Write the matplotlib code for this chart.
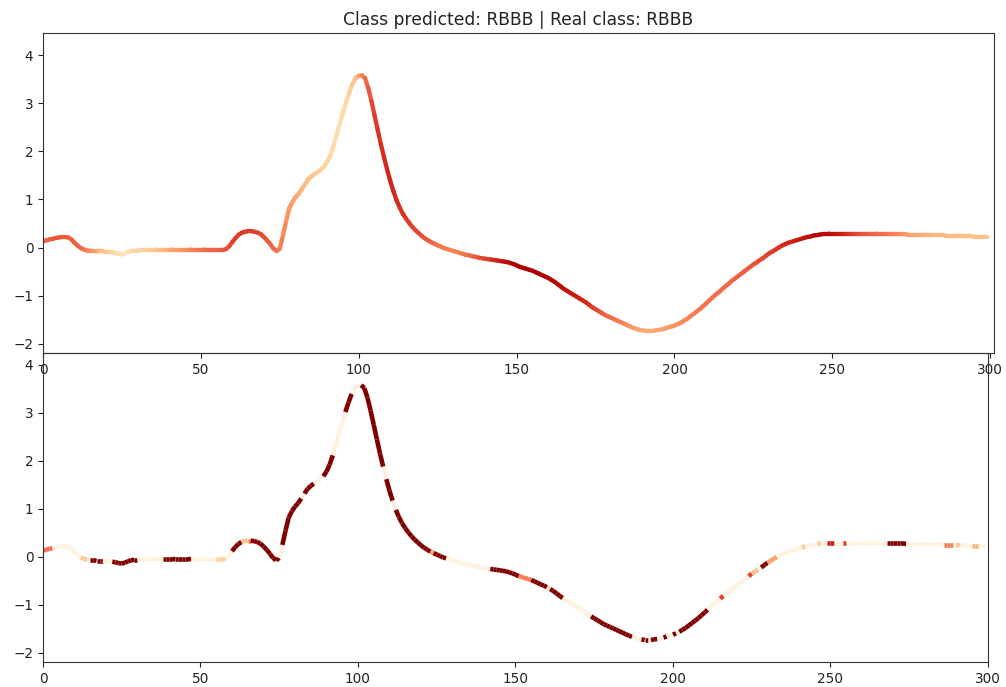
import numpy as np
import matplotlib
matplotlib.use("Agg")
import matplotlib.pyplot as plt
from matplotlib.collections import LineCollection
from matplotlib.colors import Normalize

# ECG beat (one value per sample, 0..299)
ecg = [
    0.13, 0.15, 0.17, 0.18, 0.20, 0.21, 0.22, 0.22, 0.21, 0.17,
    0.10, 0.04, -0.01, -0.04, -0.06, -0.07, -0.07, -0.08, -0.08, -0.08,
    -0.09, -0.09, -0.10, -0.11, -0.13, -0.14, -0.12, -0.09, -0.07, -0.06,
    -0.06, -0.05, -0.05, -0.05, -0.05, -0.05, -0.04, -0.04, -0.04, -0.04,
    -0.04, -0.04, -0.05, -0.05, -0.05, -0.05, -0.05, -0.04, -0.04, -0.04,
    -0.04, -0.04, -0.05, -0.05, -0.05, -0.05, -0.05, -0.05, -0.03, 0.03,
    0.12, 0.20, 0.27, 0.31, 0.33, 0.34, 0.34, 0.33, 0.31, 0.28,
    0.22, 0.15, 0.07, -0.02, -0.07, -0.02, 0.25, 0.55, 0.82, 0.95,
    1.05, 1.12, 1.22, 1.32, 1.42, 1.48, 1.53, 1.57, 1.62, 1.68,
    1.78, 1.92, 2.12, 2.35, 2.58, 2.80, 3.02, 3.22, 3.40, 3.52,
    3.57, 3.58, 3.52, 3.32, 3.05, 2.75, 2.45, 2.15, 1.88, 1.62,
    1.38, 1.17, 0.98, 0.83, 0.70, 0.60, 0.51, 0.43, 0.36, 0.30,
    0.24, 0.19, 0.15, 0.11, 0.08, 0.05, 0.02, -0.01, -0.03, -0.05,
    -0.07, -0.09, -0.11, -0.13, -0.15, -0.16, -0.18, -0.19, -0.21, -0.22,
    -0.23, -0.24, -0.25, -0.26, -0.27, -0.28, -0.29, -0.30, -0.32, -0.34,
    -0.37, -0.40, -0.42, -0.44, -0.46, -0.48, -0.51, -0.54, -0.57, -0.60,
    -0.63, -0.67, -0.71, -0.76, -0.81, -0.86, -0.90, -0.94, -0.98, -1.02,
    -1.06, -1.10, -1.14, -1.19, -1.24, -1.28, -1.32, -1.36, -1.40, -1.43,
    -1.46, -1.49, -1.52, -1.55, -1.58, -1.61, -1.64, -1.67, -1.69, -1.71,
    -1.72, -1.73, -1.73, -1.73, -1.72, -1.71, -1.70, -1.68, -1.66, -1.64,
    -1.62, -1.59, -1.56, -1.52, -1.48, -1.43, -1.38, -1.33, -1.28, -1.22,
    -1.16, -1.10, -1.04, -0.98, -0.93, -0.87, -0.81, -0.76, -0.70, -0.65,
    -0.60, -0.55, -0.50, -0.45, -0.40, -0.35, -0.31, -0.26, -0.22, -0.17,
    -0.12, -0.08, -0.04, 0.00, 0.04, 0.07, 0.10, 0.12, 0.14, 0.16,
    0.18, 0.20, 0.22, 0.23, 0.25, 0.26, 0.27, 0.28, 0.28, 0.29,
    0.29, 0.29, 0.29, 0.29, 0.29, 0.29, 0.29, 0.29, 0.29, 0.29,
    0.29, 0.29, 0.29, 0.29, 0.29, 0.28, 0.28, 0.28, 0.28, 0.28,
    0.28, 0.28, 0.28, 0.28, 0.27, 0.27, 0.27, 0.27, 0.27, 0.27,
    0.27, 0.26, 0.26, 0.26, 0.26, 0.26, 0.25, 0.25, 0.25, 0.25,
    0.25, 0.24, 0.24, 0.24, 0.24, 0.23, 0.23, 0.23, 0.22, 0.22,
]

# Smooth relevance map (upper panel), one value per sample
relevance_smooth = [
    0.62, 0.63, 0.64, 0.65, 0.66, 0.66, 0.66, 0.65, 0.64, 0.64,
    0.64, 0.64, 0.63, 0.60, 0.56, 0.52, 0.48, 0.44, 0.40, 0.36,
    0.32, 0.29, 0.26, 0.23, 0.20, 0.18, 0.17, 0.18, 0.20, 0.22,
    0.24, 0.25, 0.26, 0.27, 0.28, 0.30, 0.32, 0.35, 0.38, 0.40,
    0.42, 0.44, 0.45, 0.46, 0.47, 0.48, 0.50, 0.52, 0.54, 0.56,
    0.58, 0.60, 0.61, 0.62, 0.63, 0.64, 0.64, 0.65, 0.66, 0.68,
    0.70, 0.71, 0.72, 0.72, 0.72, 0.72, 0.72, 0.71, 0.70, 0.69,
    0.68, 0.66, 0.64, 0.62, 0.59, 0.56, 0.53, 0.50, 0.48, 0.46,
    0.44, 0.42, 0.40, 0.38, 0.36, 0.34, 0.32, 0.30, 0.28, 0.26,
    0.24, 0.22, 0.21, 0.20, 0.20, 0.21, 0.23, 0.26, 0.30, 0.35,
    0.42, 0.50, 0.58, 0.64, 0.68, 0.71, 0.73, 0.75, 0.76, 0.77,
    0.77, 0.77, 0.76, 0.75, 0.74, 0.73, 0.72, 0.71, 0.70, 0.69,
    0.68, 0.67, 0.66, 0.64, 0.62, 0.60, 0.58, 0.56, 0.55, 0.54,
    0.54, 0.54, 0.55, 0.56, 0.58, 0.60, 0.62, 0.64, 0.66, 0.68,
    0.70, 0.72, 0.74, 0.76, 0.78, 0.80, 0.82, 0.84, 0.85, 0.86,
    0.87, 0.88, 0.88, 0.89, 0.89, 0.89, 0.89, 0.88, 0.88, 0.88,
    0.87, 0.87, 0.86, 0.86, 0.85, 0.84, 0.83, 0.82, 0.81, 0.80,
    0.79, 0.78, 0.77, 0.75, 0.73, 0.71, 0.69, 0.67, 0.65, 0.63,
    0.61, 0.59, 0.57, 0.55, 0.53, 0.51, 0.49, 0.47, 0.45, 0.44,
    0.43, 0.42, 0.42, 0.42, 0.42, 0.43, 0.44, 0.45, 0.46, 0.47,
    0.48, 0.49, 0.50, 0.51, 0.52, 0.53, 0.54, 0.55, 0.56, 0.57,
    0.58, 0.58, 0.59, 0.59, 0.60, 0.60, 0.61, 0.61, 0.62, 0.62,
    0.63, 0.63, 0.64, 0.64, 0.65, 0.66, 0.67, 0.68, 0.69, 0.70,
    0.71, 0.72, 0.73, 0.74, 0.75, 0.76, 0.77, 0.78, 0.79, 0.80,
    0.81, 0.82, 0.83, 0.84, 0.85, 0.86, 0.86, 0.86, 0.86, 0.85,
    0.84, 0.83, 0.82, 0.80, 0.78, 0.76, 0.74, 0.72, 0.70, 0.68,
    0.66, 0.65, 0.64, 0.63, 0.62, 0.61, 0.60, 0.59, 0.58, 0.56,
    0.54, 0.52, 0.50, 0.48, 0.46, 0.45, 0.44, 0.43, 0.42, 0.41,
    0.40, 0.40, 0.39, 0.39, 0.38, 0.38, 0.38, 0.37, 0.37, 0.37,
    0.36, 0.36, 0.36, 0.35, 0.35, 0.35, 0.34, 0.34, 0.34, 0.33,
]

# Thresholded relevance (lower panel): (first sample, end sample, value);
# samples outside any run keep the background level
relevance_base = 0.04
relevance_runs = [
    (0, 3, 0.6), (12, 14, 0.3), (15, 19, 1.0), (22, 30, 1.0),
    (38, 47, 1.0), (55, 58, 0.25), (60, 63, 1.0), (63, 65, 0.35),
    (65, 66, 0.6), (66, 75, 1.0), (76, 82, 1.0), (83, 86, 1.0),
    (89, 92, 1.0), (96, 98, 1.0), (101, 108, 1.0), (109, 111, 1.0),
    (112, 123, 1.0), (123, 124, 0.45), (124, 128, 1.0), (142, 151, 1.0),
    (151, 155, 0.55), (155, 160, 1.0), (160, 161, 0.2), (161, 165, 1.0),
    (174, 187, 1.0), (190, 192, 1.0), (193, 195, 1.0), (197, 198, 1.0),
    (200, 201, 1.0), (202, 211, 1.0), (215, 216, 0.7), (224, 225, 0.7),
    (225, 227, 0.35), (228, 230, 1.0), (230, 233, 0.45), (241, 242, 0.3),
    (246, 247, 0.3), (249, 251, 0.8), (254, 255, 0.75), (268, 274, 1.0),
    (286, 289, 0.55), (290, 291, 0.35), (295, 297, 0.4),
]

title_text = "Class predicted: RBBB | Real class: RBBB"
x_ticks = [0, 50, 100, 150, 200, 250, 300]
y_ticks = [-2, -1, 0, 1, 2, 3, 4]

samples = np.arange(len(ecg))
signal = np.asarray(ecg, dtype=float)
smooth = np.asarray(relevance_smooth, dtype=float)
binary = np.full(len(ecg), relevance_base)
for start, end, value in relevance_runs:
    binary[start:end] = value

points = np.column_stack([samples, signal])
segments = np.stack([points[:-1], points[1:]], axis=1)

cmap = plt.get_cmap("OrRd")
norm = Normalize(0, 1)

fig = plt.figure(figsize=(10.06, 6.87), dpi=100)
ax_top = fig.add_axes([0.04274, 0.48617, 0.94533, 0.46580])
ax_bot = fig.add_axes([0.04274, 0.03639, 0.93936, 0.44978])
ax_bot.patch.set_alpha(0)

lc_top = LineCollection(segments, cmap=cmap, norm=norm, linewidths=3.1,
                        capstyle="round", joinstyle="round")
lc_top.set_array(0.5 * (smooth[:-1] + smooth[1:]))
ax_top.add_collection(lc_top)

lc_bot = LineCollection(segments, cmap=cmap, norm=norm, linewidths=3.3,
                        capstyle="butt", joinstyle="round")
lc_bot.set_array(binary[:-1])
ax_bot.add_collection(lc_bot)

ax_top.set_xlim(0, 301.2)
ax_top.set_ylim(-2.19, 4.46)
ax_bot.set_xlim(0, 300)
ax_bot.set_ylim(-2.19, 4.25)

for ax in (ax_top, ax_bot):
    ax.set_xticks(x_ticks)
    ax.set_yticks(y_ticks)
    ax.tick_params(labelsize=9.8, colors="#222222")
    for sp in ax.spines.values():
        sp.set_color("#333333")

ax_top.set_title(title_text, fontsize=12.3, color="#222222")

fig.savefig("out.png", dpi=100, facecolor="white")
